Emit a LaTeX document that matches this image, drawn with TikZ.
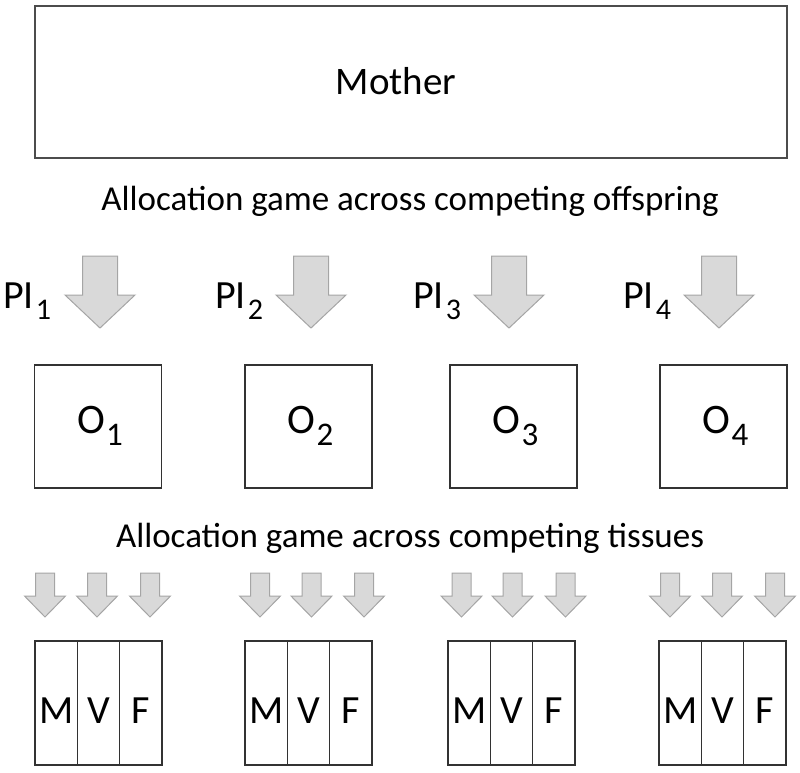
\documentclass[tikz,border=0pt]{standalone}
\usepackage{fontspec}
\setmainfont{Carlito}
\definecolor{arrfill}{RGB}{217,217,217}
\definecolor{arrline}{RGB}{165,165,165}
\definecolor{boxline}{RGB}{50,50,50}
\begin{document}
\begin{tikzpicture}[x=1pt,y=-1pt,
  arrowshape/.style={fill=arrfill,draw=arrline,line width=1pt,line join=miter},
  boxstyle/.style={draw=boxline,line width=1.2pt,inner sep=0pt},
  txt/.style={inner sep=0pt,anchor=base},
  bigarr/.pic={\draw[arrowshape] (-17.5,0) -- (17.5,0) -- (17.5,39) -- (35,39) -- (0,72) -- (-35,39) -- (-17.5,39) -- cycle;},
  smallarr/.pic={\draw[arrowshape] (-9.5,0) -- (9.5,0) -- (9.5,23) -- (20.5,23) -- (0,44) -- (-20.5,23) -- (-9.5,23) -- cycle;}
]
\useasboundingbox (0,0) rectangle (800,772);

% Mother box
\node[boxstyle,draw=black!70,minimum width=752,minimum height=152] (mother) at (411,82) {};
\node[txt,font=\fontsize{39}{46}\selectfont] (mothertxt) at (396,94) {Mother};

% headings
\node[txt,font=\fontsize{35}{42}\selectfont] (head1) at (410,210) {Allocation game across competing offspring};
\node[txt,font=\fontsize{35}{42}\selectfont] (head2) at (410,547) {Allocation game across competing tissues};

% PI labels and big arrows
\foreach \i/\px/\ax in {1/3/100, 2/215/311, 3/413/509, 4/623/719}{
  \node[inner sep=0pt,anchor=base west,font=\fontsize{40}{46}\selectfont] (pi\i) at (\px,308)
    {PI\kern2pt\raisebox{-0.28em}{\fontsize{30}{32}\selectfont\i}};
  \pic at (\ax,256) {bigarr};
}

% offspring boxes
\foreach \i/\cx in {1/98, 2/308.5, 3/513.5, 4/723.5}{
  \node[boxstyle,minimum width=127,minimum height=123] (o\i) at (\cx,426.5) {};
  \node[txt,font=\fontsize{42}{48}\selectfont] (ot\i) at (\cx+2,433)
    {O\kern1pt\raisebox{-0.3em}{\fontsize{33}{36}\selectfont\i}};
}

% tissue groups
\foreach \g/\lx/\aa/\ab/\ac in {1/35/45/97/150, 2/245/260/311.5/364, 3/448/461.5/512.5/565.5, 4/659/670/722/775}{
  \pic at (\aa,573) {smallarr};
  \pic at (\ab,573) {smallarr};
  \pic at (\ac,573) {smallarr};
  \node[boxstyle,minimum width=42.3,minimum height=124] (m\g) at (\lx+21.15,703) {};
  \node[boxstyle,minimum width=42.3,minimum height=124] (v\g) at (\lx+63.45,703) {};
  \node[boxstyle,minimum width=42.3,minimum height=124] (f\g) at (\lx+105.75,703) {};
  \node[txt,font=\fontsize{40}{46}\selectfont] (mt\g) at (\lx+21.15,723) {M};
  \node[txt,font=\fontsize{40}{46}\selectfont] (vt\g) at (\lx+63.45,723) {V};
  \node[txt,font=\fontsize{40}{46}\selectfont] (ft\g) at (\lx+105.75,723) {F};
}
\end{tikzpicture}
\end{document}
